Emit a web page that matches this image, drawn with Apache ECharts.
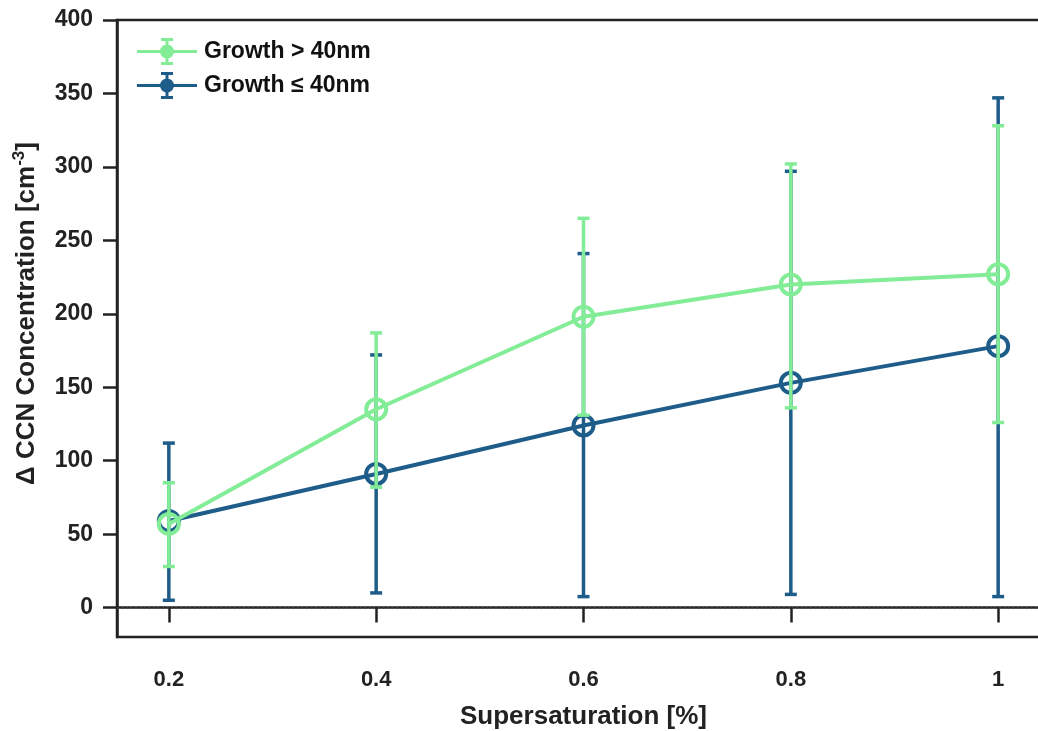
<!DOCTYPE html>
<html>
<head>
<meta charset="utf-8">
<style>
    html, body { margin: 0; padding: 0; background: #fff; }
    #chart { width: 1038px; height: 731px; }
</style>
<script src="https://cdn.jsdelivr.net/npm/echarts@6/dist/echarts.min.js"></script>
</head>
<body>
<div id="chart"></div>
<script>
// supersaturation [%]
var xValues = [0.2, 0.4, 0.6, 0.8, 1.0];

// Growth > 40nm
var bigMean = [57, 135, 198, 220, 227];
var bigLow  = [28, 82, 131, 136, 126];
var bigHigh = [85, 187, 265, 302, 328];

// Growth <= 40nm
var smallMean = [59, 91, 124, 153, 178];
var smallLow  = [5, 10, 7.5, 9, 7.5];
var smallHigh = [112, 172, 241, 297, 347];

var xTicks = [0.2, 0.4, 0.6, 0.8, 1];
var yTicks = [0, 50, 100, 150, 200, 250, 300, 350, 400];

var green = '#82ec96';
var blue = '#1e5d8a';
var axisColor = '#222';
var fontName = 'Arial, "Liberation Sans", sans-serif';

// legend icon: line + errorbar + filled circle, 60x27 box
var legendIcon = 'path://M0,12 L60,12 L60,15 L0,15 Z ' +
    'M28.5,1 L31.5,1 L31.5,26 L28.5,26 Z ' +
    'M24,0 L36,0 L36,3 L24,3 Z M24,24 L36,24 L36,27 L24,27 Z ' +
    'M23,13.5 A7,7 0 1,1 37,13.5 A7,7 0 1,1 23,13.5 Z';

function pairs(xs, ys) {
    var out = [];
    for (var i = 0; i < xs.length; i++) out.push([xs[i], ys[i]]);
    return out;
}
function bars(xs, lo, hi) {
    var out = [];
    for (var i = 0; i < xs.length; i++) out.push([xs[i], lo[i], hi[i]]);
    return out;
}

// errorbar drawing
function errorBar(color) {
    return function (params, api) {
        var x = api.value(0);
        var lo = api.coord([x, api.value(1)]);
        var hi = api.coord([x, api.value(2)]);
        var hw = 6;
        var st = { stroke: color, lineWidth: 3.5 };
        return {
            type: 'group',
            children: [
                { type: 'line', shape: { x1: lo[0], y1: lo[1], x2: hi[0], y2: hi[1] }, style: st },
                { type: 'line', shape: { x1: lo[0] - hw, y1: lo[1], x2: lo[0] + hw, y2: lo[1] }, style: st },
                { type: 'line', shape: { x1: hi[0] - hw, y1: hi[1], x2: hi[0] + hw, y2: hi[1] }, style: st }
            ]
        };
    };
}

var myChart = echarts.init(document.getElementById('chart'));
myChart.setOption({
    animation: false,
    textStyle: { fontFamily: fontName },
    grid: {
        left: 117,
        top: 20,
        width: 933,
        height: 617,
        outerBoundsMode: 'none',
        show: true,
        borderColor: axisColor,
        borderWidth: 2.5
    },
    legend: {
        orient: 'vertical',
        left: 137,
        top: 38,
        padding: 0,
        itemWidth: 60,
        itemHeight: 27,
        itemGap: 7,
        textStyle: { fontSize: 23, fontWeight: 'bold', color: '#111', padding: [0, 0, 0, 2] },
        data: [
            { name: 'Growth > 40nm', icon: legendIcon, itemStyle: { color: green, borderWidth: 0 } },
            { name: 'Growth ≤ 40nm', icon: legendIcon, itemStyle: { color: blue, borderWidth: 0 } }
        ]
    },
    xAxis: {
        type: 'value',
        min: 0.15,
        max: 1.05,
        name: 'Supersaturation [%]',
        nameLocation: 'middle',
        nameGap: 67,
        nameTextStyle: { fontSize: 26, fontWeight: 'bold', color: '#222' },
        axisLine: { show: true, lineStyle: { color: axisColor, width: 2.5 } },
        axisTick: { show: true, length: 15, customValues: xTicks, lineStyle: { color: axisColor, width: 2.5 } },
        axisLabel: {
            customValues: xTicks,
            margin: 32,
            fontSize: 22,
            fontWeight: 'bold',
            color: '#222',
            formatter: function (v) { return String(v); }
        },
        splitLine: { show: false }
    },
    yAxis: {
        type: 'value',
        min: -20,
        max: 400,
        name: '{a|Δ CCN Concentration [cm}{s|-3}{a|]}',
        nameLocation: 'middle',
        nameGap: 74,
        nameTextStyle: {
            padding: [0, 0, 0, 30],
            rich: {
                a: { fontSize: 26, fontWeight: 'bold', color: '#222', lineHeight: 32, fontFamily: fontName },
                s: { fontSize: 17, fontWeight: 'bold', color: '#222', lineHeight: 32, verticalAlign: 'top', fontFamily: fontName }
            }
        },
        axisLine: { show: true, lineStyle: { color: axisColor, width: 2.5 } },
        axisTick: { show: true, length: 14, customValues: yTicks, lineStyle: { color: axisColor, width: 2.5 } },
        axisLabel: {
            customValues: yTicks,
            margin: 24,
            fontSize: 23,
            fontWeight: 'bold',
            color: '#222'
        },
        splitLine: { show: false }
    },
    series: [
        {
            type: 'custom',
            name: 'smallErr',
            z: 2,
            renderItem: errorBar(blue),
            encode: { x: 0, y: [1, 2] },
            data: bars(xValues, smallLow, smallHigh),
            markLine: {
                silent: true,
                symbol: 'none',
                label: { show: false },
                lineStyle: { color: '#444', width: 1.5, type: [2, 2.5] },
                data: [{ yAxis: 0 }]
            }
        },
        {
            type: 'line',
            name: 'Growth ≤ 40nm',
            z: 3,
            data: pairs(xValues, smallMean),
            symbol: 'circle',
            symbolSize: 20,
            lineStyle: { color: blue, width: 4 },
            itemStyle: { color: 'rgba(0,0,0,0)', borderColor: blue, borderWidth: 4 }
        },
        {
            type: 'custom',
            name: 'bigErr',
            z: 4,
            renderItem: errorBar(green),
            encode: { x: 0, y: [1, 2] },
            data: bars(xValues, bigLow, bigHigh)
        },
        {
            type: 'line',
            name: 'Growth > 40nm',
            z: 5,
            data: pairs(xValues, bigMean),
            symbol: 'circle',
            symbolSize: 20,
            lineStyle: { color: green, width: 4 },
            itemStyle: { color: 'rgba(0,0,0,0)', borderColor: green, borderWidth: 4 }
        }
    ]
});
</script>
</body>
</html>
